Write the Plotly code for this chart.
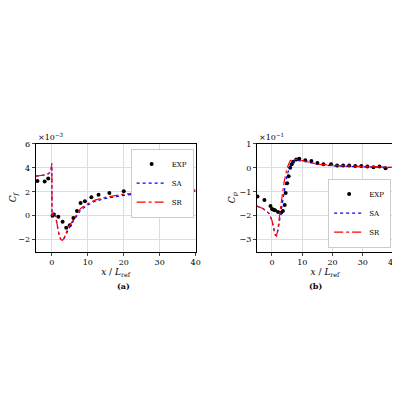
import plotly.graph_objects as go

# Skin friction (units of 1e-3)
cf_x = [-4.5, -3, -2, -1, -0.3, 0, 0.05, 0.3, 0.6, 1, 1.5, 2, 2.5, 3, 3.5, 4, 5, 6, 7, 8, 10, 12, 15, 20, 25, 30, 35, 40]
cf_sr = [3.3, 3.35, 3.4, 3.5, 3.7, 4.4, 0, 0.1, 0.3, 0.1, -0.8, -1.6, -2.0, -2.05, -1.8, -1.4, -0.8, -0.3, 0.2, 0.6, 1.0, 1.3, 1.55, 1.8, 1.95, 2.05, 2.1, 2.15]
cf_sa = [3.3, 3.35, 3.4, 3.5, 3.65, 4.2, 0, 0.1, 0.25, 0.0, -0.8, -1.6, -2.0, -2.05, -1.85, -1.5, -0.95, -0.45, 0.05, 0.45, 0.9, 1.2, 1.45, 1.7, 1.85, 1.95, 2.0, 2.05]
cf_exp_x = [-4, -2, -1, 0.2, 0.6, 1.8, 3, 4, 5, 6, 7, 8, 9.2, 11, 13, 16, 20, 24, 28, 32, 36]
cf_exp = [2.9, 2.85, 3.1, 0, 0.1, -0.1, -0.5, -1.0, -0.8, -0.2, 0.4, 1.05, 1.2, 1.55, 1.75, 1.9, 2.05, 2.05, 2.1, 2.15, 2.3]

# Pressure coefficient (units of 1e-1)
cp_x = [-5, -3, -1, 0, 0.5, 1, 1.5, 2, 3, 4, 5, 6, 7, 8, 10, 15, 20, 30, 40]
cp_sr = [-1.6, -1.7, -1.9, -2.2, -2.5, -2.8, -2.85, -2.5, -1.5, -0.6, 0, 0.3, 0.35, 0.35, 0.3, 0.15, 0.1, 0.05, 0.02]
cp_sa = [-1.6, -1.7, -1.9, -2.2, -2.5, -2.75, -2.85, -2.6, -1.8, -1.0, -0.3, 0.1, 0.25, 0.3, 0.28, 0.15, 0.08, 0.04, 0.02]
cp_exp_x = [-4.8, -2.5, -0.5, 0, 0.5, 1, 2, 3, 3.6, 4.2, 4.5, 5, 5.5, 6, 6.5, 7, 8, 9, 11, 13, 15, 17, 19.5, 21.5, 23.5, 25.5, 27.5, 29.5, 31.5, 33.5, 35.5, 37.5]
cp_exp = [-1.2, -1.35, -1.6, -1.72, -1.75, -1.77, -1.85, -1.88, -1.8, -1.55, -1.05, -0.65, -0.35, 0, 0.15, 0.25, 0.35, 0.38, 0.32, 0.28, 0.2, 0.15, 0.15, 0.1, 0.1, 0.1, 0.08, 0.08, 0.05, 0.02, 0.05, -0.02]

fig = go.Figure()
for xa, ya, leg, ex, ey, mx, sa, sr in [
    ("x", "y", "legend", cf_exp_x, cf_exp, cf_x, cf_sa, cf_sr),
    ("x2", "y2", "legend2", cp_exp_x, cp_exp, cp_x, cp_sa, cp_sr),
]:
    fig.add_trace(go.Scatter(x=ex, y=ey, mode="markers", name="EXP", xaxis=xa, yaxis=ya, legend=leg,
                             marker=dict(color="black", size=4)))
    fig.add_trace(go.Scatter(x=mx, y=sa, mode="lines", name="SA", xaxis=xa, yaxis=ya, legend=leg,
                             line=dict(color="blue", dash="dot", width=1.2)))
    fig.add_trace(go.Scatter(x=mx, y=sr, mode="lines", name="SR", xaxis=xa, yaxis=ya, legend=leg,
                             line=dict(color="red", dash="dashdot", width=1.2)))

ax = dict(showline=True, linecolor="black", mirror=True, ticks="outside", ticklen=3,
          gridcolor="#dddddd", zeroline=False, tickfont=dict(size=8), title_font=dict(size=9),
          title_standoff=2)
leg_style = dict(font=dict(size=7, color="black"), bordercolor="#cccccc", borderwidth=1, bgcolor="white",
                 tracegroupgap=0, itemwidth=30, xanchor="right")
fig.update_layout(
    width=400, height=400, template="simple_white", margin=dict(l=0, r=0, t=0, b=0),
    font=dict(family="DejaVu Serif", color="black"),
    xaxis=dict(ax, domain=[0.07, 0.475], range=[-4.5, 40], anchor="y", dtick=10, showgrid=True,
               title_text="<i>x</i> / <i>L</i><sub>ref</sub>"),
    yaxis=dict(ax, domain=[0.395, 0.667], range=[-3, 6], anchor="x", dtick=2, showgrid=True,
               title_text="<i>C<sub>f</sub></i>"),
    xaxis2=dict(ax, domain=[0.63, 0.975], range=[-5, 40], anchor="y2", dtick=10, showgrid=True,
                title_text="<i>x</i> / <i>L</i><sub>ref</sub>"),
    yaxis2=dict(ax, domain=[0.395, 0.667], range=[-3.5, 1], anchor="x2", dtick=1, showgrid=True,
                title_text="<i>C<sub>p</sub></i>"),
    legend=dict(leg_style, x=0.47, y=0.655, yanchor="top"),
    legend2=dict(leg_style, x=0.97, y=0.405, yanchor="bottom"),
    annotations=[
        dict(text="×10<sup>−3</sup>", x=0.07, y=0.667, xref="paper", yref="paper", xanchor="left",
             yanchor="bottom", showarrow=False, font=dict(size=8)),
        dict(text="×10<sup>−1</sup>", x=0.63, y=0.667, xref="paper", yref="paper", xanchor="left",
             yanchor="bottom", showarrow=False, font=dict(size=8)),
        dict(text="<b>(a)</b>", x=0.27, y=0.29, xref="paper", yref="paper", showarrow=False, font=dict(size=8)),
        dict(text="<b>(b)</b>", x=0.80, y=0.29, xref="paper", yref="paper", showarrow=False, font=dict(size=8)),
    ],
)
fig.write_html("out.html")
